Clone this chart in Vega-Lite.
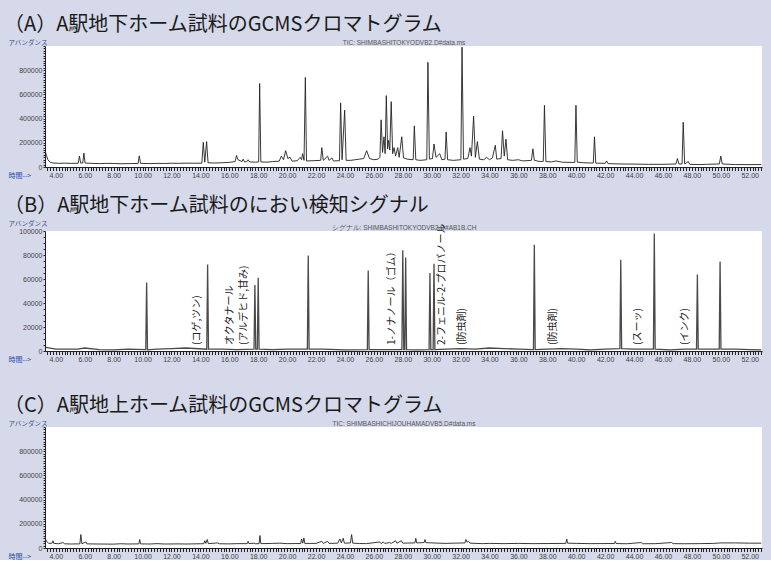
{
  "$schema": "https://vega.github.io/schema/vega-lite/v6.json",
  "background": "#d5d9ea",
  "padding": {"left": 4, "top": 15, "right": 9, "bottom": 0},
  "autosize": {"type": "pad"},
  "config": {
    "view": {"fill": "white", "stroke": null},
    "axis": {"labelFont": "Liberation Sans", "labelFontSize": 7, "labelColor": "#444", "titleFont": "Noto Sans CJK JP", "titleFontWeight": "normal", "grid": false, "domainColor": "#222", "tickColor": "#222", "tickWidth": 1, "tickSize": 3.5, "labelPadding": 1, "labelOverlap": false, "labelFlush": false},
    "title": {"font": "Noto Sans CJK JP", "fontSize": 20, "fontWeight": "normal", "color": "#1a1a1a", "anchor": "start", "frame": "bounds", "offset": 4, "dx": -4}
  },
  "datasets": {
    "A": [
      {"t":3.30,"v":120000},{"t":3.35,"v":95000},{"t":3.45,"v":60000},{"t":3.6,"v":40000},{"t":3.8,"v":33000},{"t":4.2,"v":30000},{"t":4.6,"v":32000},{"t":5.0,"v":30000},{"t":5.55,"v":31000},{"t":5.63,"v":90000},{"t":5.72,"v":32000},{"t":5.86,"v":33000},{"t":5.94,"v":115000},{"t":6.02,"v":33000},{"t":6.5,"v":30000},{"t":7.0,"v":28000},{"t":7.5,"v":30000},{"t":8.0,"v":29000},{"t":8.5,"v":27000},{"t":9.0,"v":28000},{"t":9.69,"v":29000},{"t":9.77,"v":92000},{"t":9.86,"v":30000},{"t":10.5,"v":28000},{"t":11.0,"v":30000},{"t":11.5,"v":29000},{"t":12.0,"v":31000},{"t":12.5,"v":30000},{"t":13.0,"v":32000},{"t":13.5,"v":31000},{"t":14.1,"v":32000},{"t":14.2,"v":205000},{"t":14.3,"v":40000},{"t":14.43,"v":210000},{"t":14.53,"v":35000},{"t":15.0,"v":33000},{"t":15.5,"v":35000},{"t":16.0,"v":38000},{"t":16.4,"v":45000},{"t":16.5,"v":95000},{"t":16.6,"v":60000},{"t":16.88,"v":45000},{"t":16.96,"v":65000},{"t":17.05,"v":42000},{"t":17.22,"v":45000},{"t":17.3,"v":60000},{"t":17.4,"v":42000},{"t":17.8,"v":40000},{"t":18.03,"v":42000},{"t":18.1,"v":690000},{"t":18.18,"v":42000},{"t":18.6,"v":40000},{"t":19.0,"v":45000},{"t":19.45,"v":48000},{"t":19.6,"v":90000},{"t":19.75,"v":60000},{"t":19.9,"v":135000},{"t":20.05,"v":70000},{"t":20.2,"v":80000},{"t":20.35,"v":48000},{"t":20.7,"v":52000},{"t":20.9,"v":80000},{"t":21.0,"v":60000},{"t":21.07,"v":110000},{"t":21.17,"v":55000},{"t":21.26,"v":740000},{"t":21.34,"v":50000},{"t":21.8,"v":52000},{"t":22.32,"v":55000},{"t":22.4,"v":160000},{"t":22.5,"v":55000},{"t":22.8,"v":90000},{"t":22.9,"v":55000},{"t":23.1,"v":75000},{"t":23.2,"v":50000},{"t":23.62,"v":52000},{"t":23.7,"v":530000},{"t":23.8,"v":60000},{"t":23.98,"v":470000},{"t":24.08,"v":55000},{"t":24.4,"v":55000},{"t":24.7,"v":60000},{"t":25.0,"v":65000},{"t":25.3,"v":70000},{"t":25.5,"v":135000},{"t":25.7,"v":70000},{"t":26.0,"v":60000},{"t":26.3,"v":65000},{"t":26.42,"v":80000},{"t":26.5,"v":390000},{"t":26.6,"v":120000},{"t":26.7,"v":250000},{"t":26.78,"v":110000},{"t":26.86,"v":590000},{"t":26.95,"v":150000},{"t":27.02,"v":220000},{"t":27.1,"v":140000},{"t":27.2,"v":540000},{"t":27.3,"v":110000},{"t":27.4,"v":160000},{"t":27.5,"v":90000},{"t":27.65,"v":160000},{"t":27.75,"v":80000},{"t":27.93,"v":250000},{"t":28.05,"v":75000},{"t":28.3,"v":65000},{"t":28.72,"v":60000},{"t":28.8,"v":340000},{"t":28.9,"v":60000},{"t":29.2,"v":55000},{"t":29.66,"v":60000},{"t":29.74,"v":865000},{"t":29.84,"v":65000},{"t":30.05,"v":70000},{"t":30.16,"v":190000},{"t":30.3,"v":80000},{"t":30.56,"v":110000},{"t":30.7,"v":60000},{"t":30.92,"v":65000},{"t":31.0,"v":290000},{"t":31.1,"v":60000},{"t":31.5,"v":55000},{"t":32.02,"v":60000},{"t":32.1,"v":990000},{"t":32.2,"v":65000},{"t":32.5,"v":70000},{"t":32.65,"v":160000},{"t":32.75,"v":90000},{"t":32.9,"v":420000},{"t":33.02,"v":80000},{"t":33.16,"v":210000},{"t":33.3,"v":65000},{"t":33.6,"v":60000},{"t":33.8,"v":80000},{"t":34.0,"v":60000},{"t":34.2,"v":75000},{"t":34.4,"v":180000},{"t":34.5,"v":65000},{"t":34.8,"v":70000},{"t":34.9,"v":300000},{"t":35.02,"v":90000},{"t":35.14,"v":230000},{"t":35.25,"v":60000},{"t":35.6,"v":55000},{"t":36.0,"v":60000},{"t":36.3,"v":50000},{"t":36.9,"v":55000},{"t":37.0,"v":150000},{"t":37.1,"v":55000},{"t":37.5,"v":45000},{"t":37.72,"v":47000},{"t":37.8,"v":510000},{"t":37.9,"v":45000},{"t":38.3,"v":42000},{"t":38.6,"v":50000},{"t":39.0,"v":40000},{"t":39.5,"v":38000},{"t":39.9,"v":38000},{"t":39.98,"v":510000},{"t":40.07,"v":40000},{"t":40.5,"v":35000},{"t":41.0,"v":33000},{"t":41.18,"v":33000},{"t":41.26,"v":250000},{"t":41.35,"v":32000},{"t":42.0,"v":30000},{"t":42.1,"v":50000},{"t":42.2,"v":28000},{"t":43.0,"v":25000},{"t":44.0,"v":24000},{"t":45.0,"v":22000},{"t":46.0,"v":22000},{"t":46.9,"v":25000},{"t":47.0,"v":70000},{"t":47.1,"v":25000},{"t":47.32,"v":25000},{"t":47.4,"v":370000},{"t":47.5,"v":25000},{"t":47.75,"v":45000},{"t":47.85,"v":22000},{"t":48.5,"v":20000},{"t":49.0,"v":22000},{"t":49.9,"v":25000},{"t":50.0,"v":90000},{"t":50.1,"v":25000},{"t":51.0,"v":20000},{"t":52.0,"v":20000},{"t":52.8,"v":20000}
    ],
    "B": [
      {"t":3.3,"v":3000},{"t":4.0,"v":1500},{"t":5.5,"v":1500},{"t":6.0,"v":2500},{"t":7.0,"v":1200},{"t":8.0,"v":1000},{"t":9.0,"v":1500},{"t":10.22,"v":1200},{"t":10.28,"v":57000},{"t":10.34,"v":1000},{"t":11.0,"v":1500},{"t":12.0,"v":2000},{"t":13.0,"v":2500},{"t":14.44,"v":1500},{"t":14.5,"v":72000},{"t":14.56,"v":1500},{"t":15.5,"v":1500},{"t":16.5,"v":1200},{"t":17.71,"v":1500},{"t":17.77,"v":55000},{"t":17.83,"v":1500},{"t":17.94,"v":1500},{"t":18.0,"v":61000},{"t":18.06,"v":1500},{"t":19.0,"v":1200},{"t":20.0,"v":1500},{"t":21.4,"v":1500},{"t":21.46,"v":79500},{"t":21.52,"v":1500},{"t":22.5,"v":1500},{"t":24.0,"v":1000},{"t":25.55,"v":1200},{"t":25.61,"v":67000},{"t":25.67,"v":1200},{"t":26.5,"v":1200},{"t":27.94,"v":1200},{"t":28.0,"v":84000},{"t":28.07,"v":1200},{"t":28.14,"v":1200},{"t":28.2,"v":78000},{"t":28.26,"v":1200},{"t":29.0,"v":1000},{"t":29.82,"v":1200},{"t":29.88,"v":65000},{"t":29.94,"v":1200},{"t":30.1,"v":1200},{"t":30.16,"v":72700},{"t":30.22,"v":1200},{"t":31.0,"v":1500},{"t":32.0,"v":2000},{"t":33.0,"v":1500},{"t":34.0,"v":2500},{"t":35.0,"v":2000},{"t":36.0,"v":1500},{"t":37.04,"v":1200},{"t":37.1,"v":88500},{"t":37.16,"v":1200},{"t":38.0,"v":1500},{"t":39.0,"v":2000},{"t":40.0,"v":1500},{"t":41.0,"v":1000},{"t":42.0,"v":1500},{"t":43.02,"v":2000},{"t":43.08,"v":76000},{"t":43.14,"v":2000},{"t":44.0,"v":1500},{"t":45.34,"v":1500},{"t":45.4,"v":98000},{"t":45.46,"v":1500},{"t":46.5,"v":1000},{"t":47.5,"v":1500},{"t":48.32,"v":1500},{"t":48.38,"v":63700},{"t":48.44,"v":1500},{"t":49.0,"v":1500},{"t":49.89,"v":1500},{"t":49.95,"v":74600},{"t":50.01,"v":1500},{"t":51.0,"v":1500},{"t":52.0,"v":1200},{"t":52.8,"v":1000}
    ],
    "labelsB": [
      {"t":13.76,"v":5000,"label":"(コゲ,ツン)"},
      {"t":16.04,"v":5000,"label":"オクタナール"},
      {"t":17.0,"v":5000,"label":"(アルデヒド,甘み)"},
      {"t":27.23,"v":5000,"label":"1-ノナノール（ゴム）"},
      {"t":30.69,"v":5000,"label":"2-フェニル-2-プロパノール"},
      {"t":32.08,"v":5000,"label":"(防虫剤)"},
      {"t":38.42,"v":5000,"label":"(防虫剤)"},
      {"t":44.3,"v":5000,"label":"(スーッ)"},
      {"t":47.53,"v":5000,"label":"(インク)"}
    ],
    "C": [
      {"t":3.3,"v":70000},{"t":3.36,"v":55000},{"t":3.5,"v":38000},{"t":3.74,"v":40000},{"t":3.8,"v":60000},{"t":3.86,"v":38000},{"t":4.2,"v":35000},{"t":4.5,"v":45000},{"t":4.6,"v":35000},{"t":5.0,"v":33000},{"t":5.5,"v":34000},{"t":5.66,"v":34000},{"t":5.73,"v":111000},{"t":5.8,"v":35000},{"t":6.08,"v":50000},{"t":6.15,"v":34000},{"t":7.0,"v":33000},{"t":8.0,"v":32000},{"t":8.5,"v":35000},{"t":9.0,"v":33000},{"t":9.74,"v":34000},{"t":9.8,"v":70000},{"t":9.86,"v":34000},{"t":10.5,"v":33000},{"t":11.0,"v":36000},{"t":11.5,"v":33000},{"t":12.5,"v":34000},{"t":13.0,"v":33000},{"t":14.0,"v":35000},{"t":14.24,"v":36000},{"t":14.3,"v":60000},{"t":14.38,"v":38000},{"t":14.47,"v":70000},{"t":14.55,"v":36000},{"t":15.2,"v":42000},{"t":15.3,"v":35000},{"t":16.0,"v":34000},{"t":16.5,"v":36000},{"t":17.24,"v":36000},{"t":17.3,"v":55000},{"t":17.36,"v":36000},{"t":17.7,"v":40000},{"t":17.8,"v":35000},{"t":18.06,"v":36000},{"t":18.12,"v":103000},{"t":18.18,"v":36000},{"t":19.0,"v":38000},{"t":19.5,"v":40000},{"t":20.0,"v":36000},{"t":20.94,"v":37000},{"t":21.0,"v":75000},{"t":21.08,"v":40000},{"t":21.16,"v":83000},{"t":21.22,"v":38000},{"t":22.0,"v":38000},{"t":22.4,"v":55000},{"t":22.5,"v":38000},{"t":22.8,"v":55000},{"t":22.9,"v":38000},{"t":23.5,"v":40000},{"t":23.65,"v":75000},{"t":23.75,"v":42000},{"t":23.88,"v":80000},{"t":23.96,"v":40000},{"t":24.38,"v":42000},{"t":24.46,"v":111000},{"t":24.54,"v":40000},{"t":25.0,"v":37000},{"t":25.5,"v":36000},{"t":26.4,"v":50000},{"t":26.5,"v":37000},{"t":26.65,"v":50000},{"t":26.75,"v":38000},{"t":27.1,"v":45000},{"t":27.2,"v":38000},{"t":27.5,"v":60000},{"t":27.6,"v":40000},{"t":27.9,"v":60000},{"t":28.0,"v":40000},{"t":28.84,"v":42000},{"t":28.9,"v":80000},{"t":28.96,"v":42000},{"t":29.48,"v":45000},{"t":29.54,"v":70000},{"t":29.6,"v":44000},{"t":30.5,"v":40000},{"t":31.0,"v":38000},{"t":31.5,"v":40000},{"t":32.3,"v":42000},{"t":32.37,"v":70000},{"t":32.45,"v":48000},{"t":32.55,"v":55000},{"t":32.65,"v":40000},{"t":33.5,"v":36000},{"t":34.0,"v":38000},{"t":35.0,"v":36000},{"t":36.0,"v":38000},{"t":37.0,"v":36000},{"t":38.0,"v":37000},{"t":39.28,"v":38000},{"t":39.34,"v":75000},{"t":39.4,"v":40000},{"t":40.0,"v":38000},{"t":41.0,"v":36000},{"t":42.64,"v":37000},{"t":42.7,"v":55000},{"t":42.76,"v":37000},{"t":43.5,"v":35000},{"t":44.5,"v":45000},{"t":44.6,"v":35000},{"t":45.5,"v":36000},{"t":46.6,"v":45000},{"t":46.7,"v":36000},{"t":47.5,"v":35000},{"t":48.5,"v":36000},{"t":49.5,"v":38000},{"t":50.0,"v":42000},{"t":51.0,"v":42000},{"t":52.0,"v":40000},{"t":52.8,"v":40000}
    ]
  },
  "spacing": 64,
  "bounds": "flush",
  "vconcat": [
    {
      "width": 717,
      "height": 121,
      "title": {"text": "（A）A駅地下ホーム試料のGCMSクロマトグラム"},
      "data": {"name": "A"},
      "layer": [
        {
          "mark": {"type": "line", "color": "#222", "strokeWidth": 0.9},
          "encoding": {
            "x": {"field": "t", "type": "quantitative", "scale": {"domain": [3.25, 52.85], "nice": false, "zero": false},
              "axis": {"title": "時間-->", "titleX": -37, "titleY": 8, "titleAngle": 0, "titleAlign": "left", "titleBaseline": "middle", "titleFontSize": 7, "titleColor": "#2a4fb0", "tickCount": 200, "labelExpr": "abs(datum.value/2 - round(datum.value/2)) < 0.001 ? format(datum.value, '.2f') : ''"}},
            "y": {"field": "v", "type": "quantitative", "scale": {"domain": [0, 1000000], "nice": false},
              "axis": {"title": "アバンダンス", "titleX": -37, "titleY": -4, "titleAngle": 0, "titleAlign": "left", "titleBaseline": "middle", "titleFontSize": 6.5, "titleColor": "#3a4a8a", "tickCount": 50, "tickSize": 2, "format": "d", "labelExpr": "datum.value % 200000 === 0 && datum.value < 1000000 ? datum.label : ''"}}
          }
        },
        {
          "mark": {"type": "line", "strokeOpacity": 0},
          "encoding": {
            "x": {"field": "t", "type": "quantitative", "scale": {"domain": [3.25, 52.85], "nice": false, "zero": false},
              "axis": {"orient": "top", "title": "TIC: SHIMBASHITOKYODVB2.D#data.ms", "labels": false, "ticks": false, "domain": false, "titleFont": "Liberation Sans", "titleFontSize": 6.5, "titleColor": "#555", "titlePadding": 1}},
            "y": {"field": "v", "type": "quantitative", "scale": {"domain": [0, 1000000], "nice": false}}
          }
        }
      ],
      "resolve": {"axis": {"x": "independent"}}
    },
    {
      "spacing": 76,
      "bounds": "flush",
      "vconcat": [
        {
          "width": 717,
          "height": 120,
          "title": {"text": "（B）A駅地下ホーム試料のにおい検知シグナル", "offset": 5},
          "data": {"name": "B"},
          "layer": [
            {
              "mark": {"type": "line", "color": "#4a4a4a", "strokeWidth": 1.3},
              "encoding": {
                "x": {"field": "t", "type": "quantitative", "scale": {"domain": [3.25, 52.85], "nice": false, "zero": false},
                  "axis": {"title": "時間-->", "titleX": -37, "titleY": 8, "titleAngle": 0, "titleAlign": "left", "titleBaseline": "middle", "titleFontSize": 7, "titleColor": "#2a4fb0", "tickCount": 200, "labelExpr": "abs(datum.value/2 - round(datum.value/2)) < 0.001 ? format(datum.value, '.2f') : ''"}},
                "y": {"field": "v", "type": "quantitative", "scale": {"domain": [0, 100000], "nice": false},
                  "axis": {"title": "アバンダンス", "titleX": -37, "titleY": -7.5, "titleAngle": 0, "titleAlign": "left", "titleBaseline": "middle", "titleFontSize": 6.5, "titleColor": "#3a4a8a", "tickCount": 20, "tickSize": 2, "format": "d", "labelExpr": "datum.value % 20000 === 0 ? datum.label : ''"}}
              }
            },
            {
              "mark": {"type": "line", "strokeOpacity": 0},
              "encoding": {
                "x": {"field": "t", "type": "quantitative", "scale": {"domain": [3.25, 52.85], "nice": false, "zero": false},
                  "axis": {"orient": "top", "title": "シグナル: SHIMBASHITOKYODVB2.D#AB1B.CH", "labels": false, "ticks": false, "domain": false, "titleFont": "Liberation Sans", "titleFontSize": 6.5, "titleColor": "#555", "titlePadding": 1}},
                "y": {"field": "v", "type": "quantitative", "scale": {"domain": [0, 100000], "nice": false}}
              }
            },
            {
              "data": {"name": "labelsB"},
              "mark": {"type": "text", "angle": 270, "align": "left", "baseline": "middle", "font": "Noto Sans CJK JP", "fontSize": 10, "color": "#222"},
              "encoding": {
                "x": {"field": "t", "type": "quantitative", "scale": {"domain": [3.25, 52.85], "nice": false, "zero": false}, "axis": null},
                "y": {"field": "v", "type": "quantitative", "scale": {"domain": [0, 100000], "nice": false}},
                "text": {"field": "label"}
              }
            }
          ],
          "resolve": {"axis": {"x": "independent"}}
        },
        {
          "width": 717,
          "height": 121,
          "title": {"text": "（C）A駅地上ホーム試料のGCMSクロマトグラム"},
          "data": {"name": "C"},
          "layer": [
            {
              "mark": {"type": "line", "color": "#222", "strokeWidth": 0.9},
              "encoding": {
                "x": {"field": "t", "type": "quantitative", "scale": {"domain": [3.25, 52.85], "nice": false, "zero": false},
                  "axis": {"title": "時間-->", "titleX": -37, "titleY": 8, "titleAngle": 0, "titleAlign": "left", "titleBaseline": "middle", "titleFontSize": 7, "titleColor": "#2a4fb0", "tickCount": 200, "labelExpr": "abs(datum.value/2 - round(datum.value/2)) < 0.001 ? format(datum.value, '.2f') : ''"}},
                "y": {"field": "v", "type": "quantitative", "scale": {"domain": [0, 1000000], "nice": false},
                  "axis": {"title": "アバンダンス", "titleX": -37, "titleY": -4, "titleAngle": 0, "titleAlign": "left", "titleBaseline": "middle", "titleFontSize": 6.5, "titleColor": "#3a4a8a", "tickCount": 50, "tickSize": 2, "format": "d", "labelExpr": "datum.value % 200000 === 0 && datum.value < 1000000 ? datum.label : ''"}}
              }
            },
            {
              "mark": {"type": "line", "strokeOpacity": 0},
              "encoding": {
                "x": {"field": "t", "type": "quantitative", "scale": {"domain": [3.25, 52.85], "nice": false, "zero": false},
                  "axis": {"orient": "top", "title": "TIC: SHIMBASHICHIJOUHAMADVB5.D#data.ms", "labels": false, "ticks": false, "domain": false, "titleFont": "Liberation Sans", "titleFontSize": 6.5, "titleColor": "#555", "titlePadding": 1}},
                "y": {"field": "v", "type": "quantitative", "scale": {"domain": [0, 1000000], "nice": false}}
              }
            }
          ],
          "resolve": {"axis": {"x": "independent"}}
        }
      ]
    }
  ]
}
